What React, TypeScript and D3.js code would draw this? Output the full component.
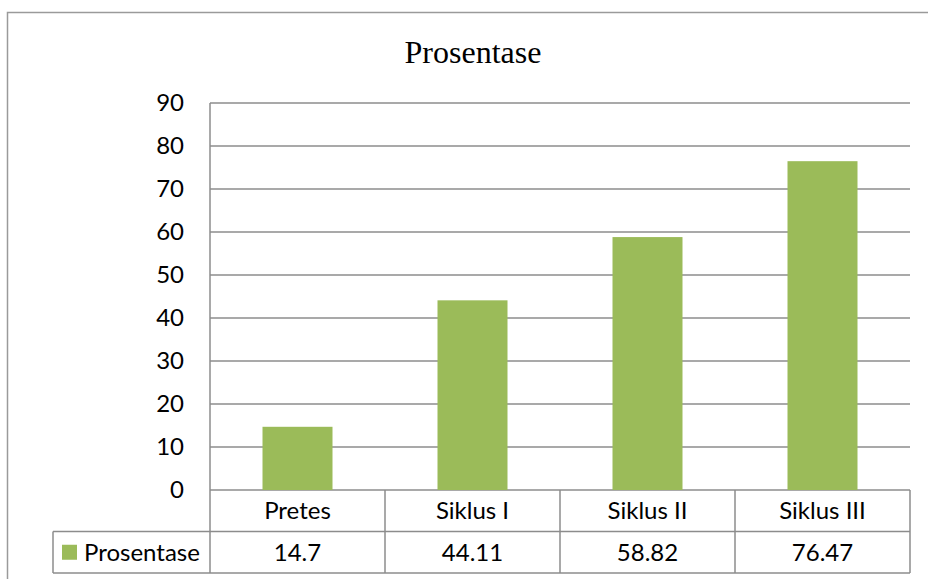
import React, { useEffect, useRef } from 'react';
import * as d3 from 'd3';

const categories = ['Pretes', 'Siklus I', 'Siklus II', 'Siklus III'];
const values = [14.7, 44.11, 58.82, 76.47];
const valueLabels = ['14.7', '44.11', '58.82', '76.47'];
const yTicks = [0, 10, 20, 30, 40, 50, 60, 70, 80, 90];
const seriesName = 'Prosentase';
const title = 'Prosentase';

const width = 928;
const height = 579;
const margin = { top: 103, right: 18, bottom: 89, left: 210 };
const rowHeight = 41.5;
const legendLeft = 53;
const barColor = '#9BBB59';
const lineColor = '#8c8c8c';
const font = 'Lato, "Open Sans", sans-serif';
const fontSize = '24px';

export default function App() {
  const ref = useRef<SVGSVGElement>(null);

  useEffect(() => {
    if (!ref.current) return;
    const svg = d3.select(ref.current);
    svg.selectAll('*').remove();

    const plotW = width - margin.left - margin.right;
    const plotBottom = height - margin.bottom;

    const x = d3
      .scaleBand<string>()
      .domain(categories)
      .range([margin.left, margin.left + plotW])
      .paddingInner(0.6)
      .paddingOuter(0.3);
    const col = d3
      .scaleBand<string>()
      .domain(categories)
      .range([margin.left, margin.left + plotW]);
    const y = d3.scaleLinear().domain([0, 90]).range([plotBottom, margin.top]);

    // outer chart frame
    svg
      .append('rect')
      .attr('x', 7.5)
      .attr('y', 12.5)
      .attr('width', width + 20)
      .attr('height', height + 20)
      .attr('fill', 'none')
      .attr('stroke', '#9a9a9a')
      .attr('stroke-width', 1.5);

    svg
      .append('text')
      .attr('x', 473)
      .attr('y', 63)
      .attr('text-anchor', 'middle')
      .style('font-family', '"Liberation Serif", "Times New Roman", serif')
      .style('font-size', '32px')
      .text(title);

    // gridlines
    svg
      .append('g')
      .selectAll('line')
      .data(yTicks)
      .enter()
      .append('line')
      .attr('x1', margin.left)
      .attr('x2', margin.left + plotW)
      .attr('y1', (d) => y(d))
      .attr('y2', (d) => y(d))
      .attr('stroke', lineColor)
      .attr('stroke-width', 1.5);

    // y labels
    svg
      .append('g')
      .selectAll('text')
      .data(yTicks)
      .enter()
      .append('text')
      .attr('x', 184)
      .attr('y', (d) => y(d))
      .attr('dy', '0.35em')
      .attr('text-anchor', 'end')
      .style('font-family', font)
      .style('font-size', fontSize)
      .text((d) => d);

    // bars
    svg
      .append('g')
      .selectAll('rect')
      .data(values)
      .enter()
      .append('rect')
      .attr('x', (d, i) => x(categories[i]) ?? 0)
      .attr('width', x.bandwidth())
      .attr('y', (d) => y(d))
      .attr('height', (d) => y(0) - y(d))
      .attr('fill', barColor);

    // data table
    const t = svg.append('g').attr('stroke', lineColor).attr('stroke-width', 1.5);
    const row1 = plotBottom + rowHeight;
    const row2 = plotBottom + rowHeight * 2;
    t.append('line')
      .attr('x1', margin.left)
      .attr('x2', margin.left)
      .attr('y1', margin.top)
      .attr('y2', row2);
    categories.forEach((c) => {
      const xr = (col(c) ?? 0) + col.bandwidth();
      t.append('line').attr('x1', xr).attr('x2', xr).attr('y1', plotBottom).attr('y2', row2);
    });
    t.append('line')
      .attr('x1', legendLeft)
      .attr('x2', legendLeft)
      .attr('y1', row1)
      .attr('y2', row2);
    t.append('line')
      .attr('x1', legendLeft)
      .attr('x2', margin.left + plotW)
      .attr('y1', row1)
      .attr('y2', row1);
    t.append('line')
      .attr('x1', legendLeft)
      .attr('x2', margin.left + plotW)
      .attr('y1', row2)
      .attr('y2', row2);

    categories.forEach((c, i) => {
      const cx = (col(c) ?? 0) + col.bandwidth() / 2;
      svg
        .append('text')
        .attr('x', cx)
        .attr('y', plotBottom + rowHeight / 2)
        .attr('dy', '0.35em')
        .attr('text-anchor', 'middle')
        .style('font-family', font)
        .style('font-size', fontSize)
        .text(c);
      svg
        .append('text')
        .attr('x', cx)
        .attr('y', row1 + rowHeight / 2)
        .attr('dy', '0.35em')
        .attr('text-anchor', 'middle')
        .style('font-family', font)
        .style('font-size', fontSize)
        .text(valueLabels[i]);
    });

    // legend key
    svg
      .append('rect')
      .attr('x', 62)
      .attr('y', row1 + rowHeight / 2 - 7.5)
      .attr('width', 15)
      .attr('height', 15)
      .attr('fill', barColor);
    svg
      .append('text')
      .attr('x', 84)
      .attr('y', row1 + rowHeight / 2)
      .attr('dy', '0.35em')
      .style('font-family', font)
      .style('font-size', fontSize)
      .text(seriesName);
  }, []);

  return (
    <svg
      ref={ref}
      width={width}
      height={height}
      style={{ position: 'absolute', left: 0, top: 0, background: '#fff' }}
    />
  );
}
